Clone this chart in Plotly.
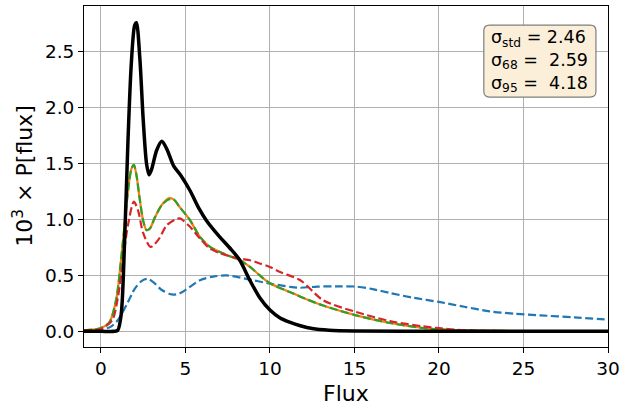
import plotly.graph_objects as go

# Black: reference P[flux]
x_black = [-1, 0, 0.8, 1.0, 1.2, 1.4, 1.6, 1.8, 2.0, 2.1, 2.3, 2.5, 2.7, 2.85, 3.0, 3.3, 3.6, 3.9, 4.3,
           4.7, 5.27, 5.8, 6.25, 7.0, 7.6, 8.2, 8.8, 9.4, 10.0, 10.6, 11.2, 11.8, 12.5, 13.5, 15, 20, 30]
y_black = [0, 0, 0, 0.01, 0.15, 0.8, 1.7, 2.4, 2.74, 2.76, 2.45, 1.9, 1.5, 1.40, 1.45, 1.62, 1.70, 1.63, 1.48,
           1.40, 1.26, 1.10, 0.99, 0.85, 0.75, 0.64, 0.46, 0.30, 0.19, 0.12, 0.08, 0.05, 0.025, 0.01, 0.003, 0, 0]

x_blue = [-1, 0, 0.57, 1.0, 1.56, 2.0, 2.4, 2.74, 3.1, 3.6, 4.2, 4.67, 5.86, 6.65, 7.44, 8.6, 10, 11.2, 11.8,
          12.8, 14.1, 15.1, 16.0, 17.1, 18.5, 20, 21.5, 23, 24.5, 26, 28, 30]
y_blue = [0.005, 0.015, 0.04, 0.1, 0.25, 0.38, 0.45, 0.47, 0.44, 0.37, 0.33, 0.34, 0.457, 0.49, 0.50, 0.47, 0.427,
          0.398, 0.39, 0.40, 0.403, 0.40, 0.38, 0.343, 0.30, 0.263, 0.22, 0.179, 0.157, 0.143, 0.125, 0.105]

x_green = [-1, -0.5, 0, 0.5, 0.9, 1.2, 1.4, 1.6, 1.8, 1.95, 2.1, 2.3, 2.5, 2.7, 2.9, 3.2, 3.6, 4.0, 4.3, 4.67,
           5.27, 5.86, 6.45, 7.04, 7.63, 8.22, 8.82, 9.4, 10, 11.2, 11.8, 13.1, 15.1, 17.1, 19.05, 20, 22, 25, 30]
y_green = [0.01, 0.015, 0.03, 0.08, 0.28, 0.65, 0.95, 1.25, 1.45, 1.49, 1.40, 1.18, 0.99, 0.905, 0.92, 1.02, 1.13,
           1.18, 1.18, 1.11, 0.995, 0.845, 0.755, 0.71, 0.672, 0.636, 0.576, 0.50, 0.43, 0.35, 0.31, 0.233, 0.143,
           0.075, 0.03, 0.018, 0.007, 0.002, 0]

x_orange = list(x_green)
y_orange = [0.01, 0.015, 0.03, 0.08, 0.28, 0.65, 0.95, 1.25, 1.45, 1.49, 1.40, 1.18, 0.99, 0.905, 0.92, 1.02, 1.13,
            1.19, 1.18, 1.11, 0.995, 0.845, 0.755, 0.71, 0.672, 0.636, 0.576, 0.50, 0.43, 0.35, 0.31, 0.233, 0.143,
            0.075, 0.03, 0.018, 0.007, 0.002, 0]

x_red = [-1, 0, 0.67, 1.0, 1.36, 1.6, 1.95, 2.2, 2.5, 2.94, 3.4, 3.9, 4.4, 4.67, 5.27, 5.86, 6.45, 7.04, 7.63,
         8.22, 8.82, 9.4, 10, 10.6, 11.8, 13.15, 15.1, 17.1, 19.05, 21, 23, 26, 30]
y_red = [0.01, 0.02, 0.10, 0.3, 0.70, 0.95, 1.16, 1.08, 0.88, 0.755, 0.82, 0.95, 1.0, 1.01, 0.935, 0.83, 0.74, 0.70,
         0.672, 0.65, 0.636, 0.607, 0.576, 0.53, 0.457, 0.278, 0.173, 0.092, 0.045, 0.015, 0.005, 0.001, 0]

x_ticks = [0, 5, 10, 15, 20, 25, 30]
y_ticks = [0.0, 0.5, 1.0, 1.5, 2.0, 2.5]
x_title = "Flux"
y_title = "10<sup>3</sup> × P[flux]"
stats_text = "σ<sub>std</sub> = 2.46<br>σ<sub>68</sub> =  2.59<br>σ<sub>95</sub> =  4.18"

fig = go.Figure()
dash = "8px,3.5px"
fig.add_trace(go.Scatter(x=x_blue, y=y_blue, mode="lines", line=dict(color="#1f77b4", width=2.2, dash=dash, shape="spline", smoothing=0.8)))
fig.add_trace(go.Scatter(x=x_orange, y=y_orange, mode="lines", line=dict(color="#ff7f0e", width=2.2, shape="spline", smoothing=0.8)))
fig.add_trace(go.Scatter(x=x_green, y=y_green, mode="lines", line=dict(color="#2ca02c", width=2.2, dash=dash, shape="spline", smoothing=0.8)))
fig.add_trace(go.Scatter(x=x_red, y=y_red, mode="lines", line=dict(color="#d62728", width=2.2, dash=dash, shape="spline", smoothing=0.8)))
fig.add_trace(go.Scatter(x=x_black, y=y_black, mode="lines", line=dict(color="black", width=3.5, shape="spline", smoothing=0.8)))

font = "DejaVu Sans"
axis_common = dict(showgrid=True, gridcolor="#b0b0b0", gridwidth=1, zeroline=False, showline=True,
                   linecolor="black", linewidth=1, mirror=True, ticks="outside", ticklen=5, tickcolor="black",
                   automargin=False, tickfont=dict(family=font, size=18.5, color="black"))
fig.update_layout(
    width=623, height=405,
    margin=dict(l=84, r=15, t=6, b=58),
    paper_bgcolor="white", plot_bgcolor="white",
    showlegend=False,
    font=dict(family=font, color="black"),
    xaxis=dict(range=[-1, 30], tickvals=x_ticks, ticktext=[str(v) for v in x_ticks], **axis_common),
    yaxis=dict(range=[-0.14, 2.91], tickvals=y_ticks, ticktext=[f"{v:.1f}" for v in y_ticks], **axis_common),
)
fig.add_annotation(xref="paper", yref="paper", x=0.5, y=-0.135, xanchor="center", yanchor="middle",
                   text=x_title, showarrow=False, font=dict(family=font, size=22, color="black"))
fig.add_annotation(xref="paper", yref="paper", x=-0.118, y=0.5, xanchor="center", yanchor="middle",
                   text=y_title, showarrow=False, textangle=-90, font=dict(family=font, size=22, color="black"))

# rounded box behind the stats text
bx0, bx1, by0, by1 = 0.763, 0.977, 0.733, 0.944
rx, ry = 0.011, 0.017
box_path = (f"M {bx0+rx},{by0} L {bx1-rx},{by0} Q {bx1},{by0} {bx1},{by0+ry} "
            f"L {bx1},{by1-ry} Q {bx1},{by1} {bx1-rx},{by1} L {bx0+rx},{by1} Q {bx0},{by1} {bx0},{by1-ry} "
            f"L {bx0},{by0+ry} Q {bx0},{by0} {bx0+rx},{by0} Z")
fig.add_shape(type="path", xref="paper", yref="paper", path=box_path,
              fillcolor="#fbefd9", line=dict(color="#7f7f7f", width=1.2), layer="above")
fig.add_annotation(
    xref="paper", yref="paper", x=(bx0 + bx1) / 2, y=(by0 + by1) / 2, xanchor="center", yanchor="middle",
    text=stats_text, showarrow=False, align="left",
    font=dict(family=font, size=17.5, color="black"),
)
fig.write_html("out.html", config={"displayModeBar": False},
               post_script="document.body.style.margin='0';document.body.style.overflow='hidden';")
